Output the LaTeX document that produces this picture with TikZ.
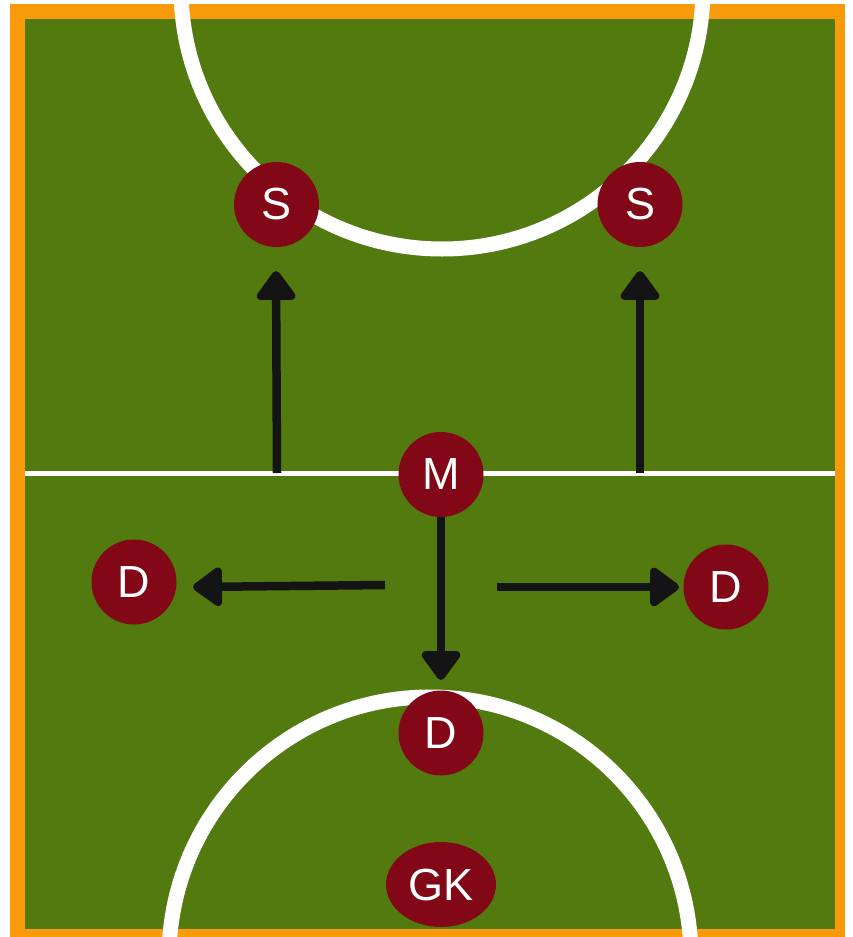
\documentclass[tikz,border=0pt]{standalone}
\usepackage{fontspec}
\setmainfont{Liberation Sans}
\usetikzlibrary{arrows.meta,shapes.geometric}
\definecolor{courtgreen}{RGB}{82,122,14}
\definecolor{frameorange}{RGB}{248,154,10}
\definecolor{playerred}{RGB}{130,8,23}
\definecolor{arrowblack}{RGB}{20,20,20}
\begin{document}
\begin{tikzpicture}[x=1pt,y=-1pt,
  player/.style={circle, fill=playerred, minimum size=85pt, inner sep=0pt, text=white, font=\fontsize{45}{45}\selectfont},
  keeper/.style={ellipse, fill=playerred, minimum width=110pt, minimum height=85pt, inner sep=0pt, text=white, font=\fontsize{45}{45}\selectfont},
  move/.style={draw=arrowblack, line width=8.5pt, -{Triangle[length=32pt,width=44pt,round]}},
  courtline/.style={draw=white, line width=15pt}]
\useasboundingbox (0,0) rectangle (852,937);
\fill[frameorange] (10,4) rectangle (845,937);
\fill[courtgreen] (25,19) rectangle (835,929);
\begin{scope}
  \clip (10,4) rectangle (845,937);
  \draw[courtline] (442,-12) circle (261pt);
  \draw[courtline] (430,958) circle (261pt);
\end{scope}
\draw[white, line width=5pt] (25,473) -- (835,473);

\node[player] (S1) at (276.5,204.5) {S};
\node[player] (S2) at (640,204.5) {S};
\node[player] (M) at (441,474.5) {M};
\node[player] (D1) at (134,582) {D};
\node[player] (D2) at (726,587) {D};
\node[player] (D3) at (441,733) {D};
\node[keeper] (GK) at (441,884.5) {GK};

\coordinate (u1s) at (277,473);
\coordinate (u1e) at (276,271);
\coordinate (u2s) at (640,473);
\coordinate (u2e) at (640,271);
\coordinate (ls) at (385,585);
\coordinate (le) at (193,587);
\coordinate (rs) at (497,587);
\coordinate (re) at (679,587);
\coordinate (de) at (441,680);

\draw[move] (u1s) -- (u1e);
\draw[move] (u2s) -- (u2e);
\draw[move] (ls) -- (le);
\draw[move] (rs) -- (re);
\draw[move] (M.south) -- (de);
\end{tikzpicture}
\end{document}
